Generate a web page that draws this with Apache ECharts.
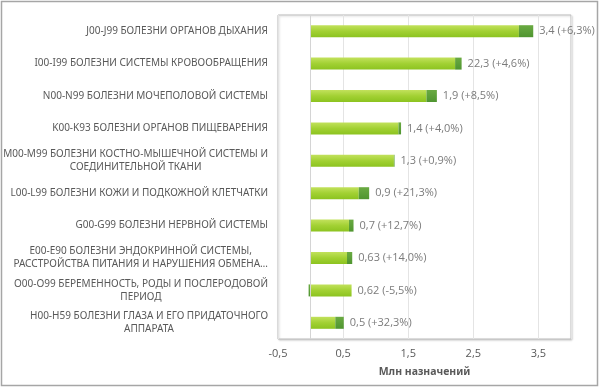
<!DOCTYPE html>
<html>
<head>
<meta charset="utf-8">
<script src="https://cdn.jsdelivr.net/npm/echarts@6/dist/echarts.min.js"></script>
<style>
html,body{margin:0;padding:0;background:#fff;}
#c{width:600px;height:387px;}
</style>
</head>
<body>
<div id="c"></div>
<script>
var categories = [
  "J00-J99 БОЛЕЗНИ ОРГАНОВ ДЫХАНИЯ",
  "I00-I99 БОЛЕЗНИ СИСТЕМЫ КРОВООБРАЩЕНИЯ",
  "N00-N99 БОЛЕЗНИ МОЧЕПОЛОВОЙ СИСТЕМЫ",
  "K00-K93 БОЛЕЗНИ ОРГАНОВ ПИЩЕВАРЕНИЯ",
  "M00-M99 БОЛЕЗНИ КОСТНО-МЫШЕЧНОЙ СИСТЕМЫ И\nСОЕДИНИТЕЛЬНОЙ ТКАНИ",
  "L00-L99 БОЛЕЗНИ КОЖИ И ПОДКОЖНОЙ КЛЕТЧАТКИ",
  "G00-G99 БОЛЕЗНИ НЕРВНОЙ СИСТЕМЫ",
  "E00-E90 БОЛЕЗНИ ЭНДОКРИННОЙ СИСТЕМЫ,\nРАССТРОЙСТВА ПИТАНИЯ И НАРУШЕНИЯ ОБМЕНА…",
  "O00-O99 БЕРЕМЕННОСТЬ, РОДЫ И ПОСЛЕРОДОВОЙ\nПЕРИОД",
  "H00-H59 БОЛЕЗНИ ГЛАЗА И ЕГО ПРИДАТОЧНОГО\nАППАРАТА"
];
var baseValues   = [3.2, 2.22, 1.78, 1.35, 1.28, 0.74, 0.59, 0.56, 0.63, 0.38];
var changeValues = [0.22, 0.1, 0.16, 0.04, 0.01, 0.16, 0.07, 0.08, -0.03, 0.13];
var valueLabels = ["3,4 (+6,3%)", "22,3 (+4,6%)", "1,9 (+8,5%)", "1,4 (+4,0%)", "1,3 (+0,9%)",
  "0,9 (+21,3%)", "0,7 (+12,7%)", "0,63 (+14,0%)", "0,62 (-5,5%)", "0,5 (+32,3%)"];
var xTicks = { min: -0.5, max: 4, interval: 1 };

var ends = baseValues.map(function (b, i) { return b + Math.max(changeValues[i], 0); });

var chart = echarts.init(document.getElementById('c'));
chart.setOption({
  animation: false,
  graphic: [{
    type: 'rect', silent: true,
    shape: { x: 1.5, y: 1.5, width: 596, height: 384 },
    style: { fill: 'none', stroke: '#a6a6a6', lineWidth: 1.5 }
  }],
  grid: {
    left: 278, right: 29, top: 15, bottom: 48,
    show: true, borderColor: '#bdbdbd', borderWidth: 1,
    shadowColor: 'rgba(0,0,0,0.18)', shadowBlur: 2, shadowOffsetX: 1, shadowOffsetY: 1,
    backgroundColor: '#fff'
  },
  xAxis: {
    type: 'value', min: xTicks.min, max: xTicks.max, interval: xTicks.interval,
    axisLine: { show: false }, axisTick: { show: false },
    splitLine: { show: true, lineStyle: { color: '#e4e4e4', width: 1 } },
    axisLabel: {
      showMaxLabel: false, color: '#595959', fontSize: 11, fontFamily: 'Open Sans', margin: 9,
      formatter: function (v) { return String(v).replace('.', ','); }
    },
    name: 'Млн назначений', nameLocation: 'middle', nameGap: 28,
    nameTextStyle: { color: '#595959', fontSize: 10.5, fontWeight: 'bold', fontFamily: 'Noto Sans' }
  },
  yAxis: {
    type: 'category', inverse: true, data: categories,
    axisLine: { show: false }, axisTick: { show: false },
    axisLabel: {
      interval: 0, margin: 10, color: '#595959', fontSize: 10, fontFamily: 'Noto Sans', lineHeight: 13,
      formatter: function (v) { return v.split('\n').map(function (l) { return '{c|' + l + '}'; }).join('\n'); },
      rich: { c: { align: 'center', fontSize: 10, fontFamily: 'Noto Sans', color: '#595959', lineHeight: 13 } }
    }
  },
  series: [
    {
      type: 'bar', stack: 'a', barWidth: 12, data: baseValues,
      itemStyle: {
        color: new echarts.graphic.LinearGradient(0, 0, 0, 1, [
          { offset: 0, color: '#c2e15c' }, { offset: 0.5, color: '#a2d133' }, { offset: 1, color: '#8cc320' }
        ])
      },
      markLine: {
        silent: true, symbol: 'none', label: { show: false },
        lineStyle: { color: '#d4d4d4', type: 'solid', width: 1 },
        data: [{ xAxis: 0 }]
      }
    },
    {
      type: 'bar', stack: 'a', barWidth: 12, data: changeValues,
      itemStyle: {
        color: new echarts.graphic.LinearGradient(0, 0, 0, 1, [
          { offset: 0, color: '#6aaa42' }, { offset: 1, color: '#4f9530' }
        ])
      }
    },
    {
      type: 'scatter', symbolSize: 0, silent: true, data: ends,
      label: {
        show: true, position: 'right', distance: 6, color: '#595959', fontSize: 11, fontFamily: 'Open Sans',
        formatter: function (p) { return valueLabels[p.dataIndex]; }
      }
    }
  ]
});
</script>
</body>
</html>
